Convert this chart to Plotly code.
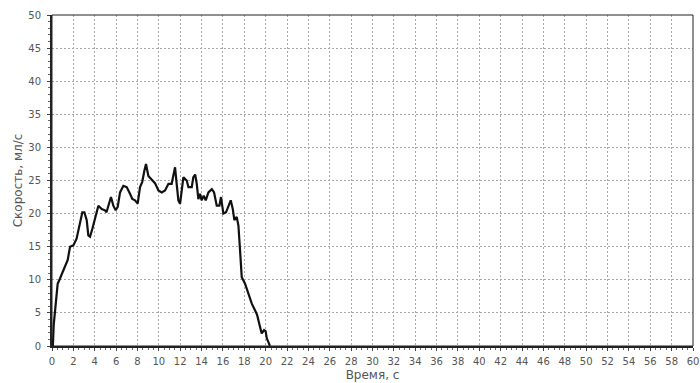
import plotly.graph_objects as go

time_s = [0, 0.08, 0.16, 0.28, 0.4, 0.53, 0.75, 1.06, 1.28, 1.47, 1.69, 2.0, 2.3, 2.6, 2.84,
          3.03, 3.25, 3.4, 3.56, 3.78, 4.03, 4.34, 4.65, 4.96, 5.1, 5.34, 5.52, 5.74, 5.96,
          6.15, 6.37, 6.68, 6.99, 7.3, 7.52, 7.77, 8.02, 8.24, 8.45, 8.65, 8.8, 9.02, 9.33,
          9.64, 9.96, 10.27, 10.58, 10.9, 11.2, 11.36, 11.52, 11.67, 11.83, 11.99, 12.15,
          12.3, 12.61, 12.77, 13.08, 13.23, 13.4, 13.55, 13.7, 13.86, 14.0, 14.2, 14.39,
          14.64, 14.96, 15.17, 15.42, 15.67, 15.82, 16.04, 16.29, 16.51, 16.73, 16.92,
          17.07, 17.29, 17.45, 17.6, 17.76, 18.07, 18.38, 18.7, 19.0, 19.2, 19.47, 19.63,
          19.85, 20.0, 20.1, 20.4]
flow_ml_s = [0, 0, 3.2, 5.4, 8.0, 9.4, 10.2, 11.4, 12.2, 13.0, 15.0, 15.2, 16.2, 18.5, 20.2,
             20.2, 19.0, 16.7, 16.5, 17.7, 19.2, 21.2, 20.7, 20.5, 20.2, 21.5, 22.5, 21.2,
             20.5, 21.0, 23.2, 24.2, 24.0, 23.0, 22.2, 22.0, 21.5, 24.0, 24.8, 26.5, 27.5,
             25.7, 25.1, 24.6, 23.5, 23.2, 23.5, 24.5, 24.5, 26.0, 27.0, 24.5, 22.0, 21.5,
             24.0, 25.5, 25.0, 24.0, 24.0, 25.5, 25.9, 24.5, 22.2, 23.0, 22.0, 22.7, 22.0,
             23.2, 23.7, 23.2, 21.2, 21.2, 22.5, 20.0, 20.2, 21.2, 22.0, 20.7, 19.0, 19.5,
             18.2, 14.5, 10.4, 9.4, 7.9, 6.4, 5.4, 4.7, 2.9, 1.9, 2.4, 2.2, 1.2, 0]

x_ticks = list(range(0, 61, 2))
y_ticks = list(range(0, 51, 5))

fig = go.Figure()
fig.add_trace(go.Scatter(x=time_s, y=flow_ml_s, mode="lines",
                         line=dict(color="#111111", width=2.2), hoverinfo="skip"))

tick_font = dict(family="DejaVu Sans", size=10, color="#555555")
title_font = dict(family="DejaVu Sans", size=12, color="#555555")
fig.update_layout(
    width=700, height=383,
    margin=dict(l=52, r=7, t=15, b=37),
    paper_bgcolor="white", plot_bgcolor="white",
    showlegend=False,
    font=tick_font,
)
fig.update_xaxes(
    range=[0, 60], tickvals=x_ticks, ticktext=[str(v) for v in x_ticks],
    showgrid=True, gridcolor="#a8a8a8", griddash="2px,2px", gridwidth=1,
    showline=True, linecolor="#222222", linewidth=2, mirror=False,
    ticks="outside", ticklen=3, tickcolor="#444444",
    minor=dict(dtick=0.5, ticks="outside", ticklen=2, tickcolor="#666666", showgrid=False),
    title=dict(text="Время, с", font=title_font, standoff=5),
    zeroline=False, tickfont=tick_font, ticklabelstandoff=2, automargin=False,
)
fig.update_yaxes(
    range=[0, 50], tickvals=y_ticks, ticktext=[str(v) for v in y_ticks],
    showgrid=True, gridcolor="#a8a8a8", griddash="2px,2px", gridwidth=1,
    showline=True, linecolor="#222222", linewidth=2, mirror=False,
    ticks="outside", ticklen=3, tickcolor="#444444",
    minor=dict(dtick=1, ticks="outside", ticklen=2, tickcolor="#666666", showgrid=False),
    title=dict(text="Скорость, мл/с", font=title_font, standoff=3),
    zeroline=False, tickfont=tick_font, ticklabelstandoff=4, automargin=False,
)
# thin top/right frame
fig.add_shape(type="rect", xref="paper", yref="paper", x0=0, y0=0, x1=1, y1=1,
              line=dict(color="#222222", width=1), layer="above")

fig.write_html("out.html")
